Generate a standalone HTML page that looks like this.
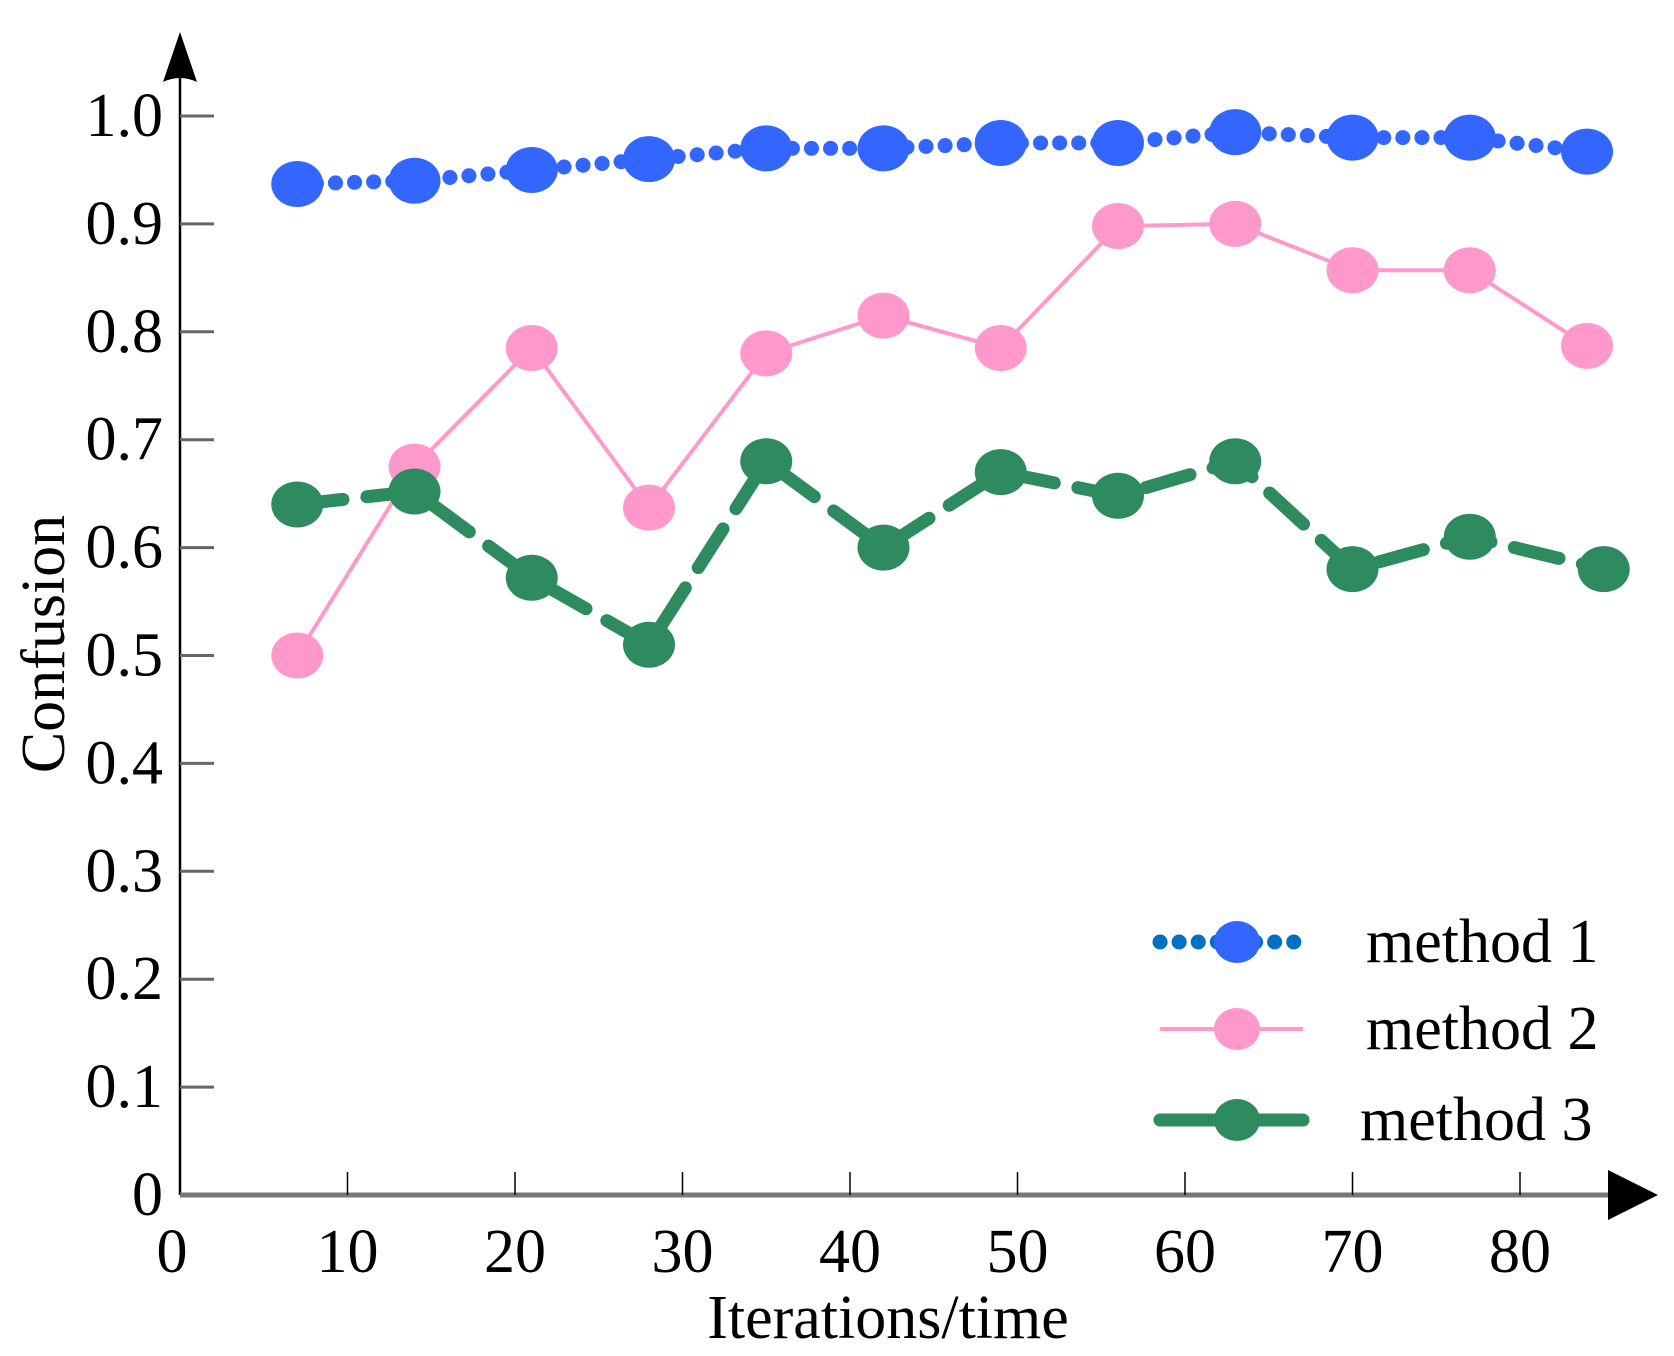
<!DOCTYPE html>
<html><head><meta charset="utf-8"><style>
html,body{margin:0;padding:0;background:#fff;}
svg{display:block;}
text{font-family:"Liberation Serif",serif;fill:#000;}
</style></head><body>
<svg id="chart" width="1674" height="1356" viewBox="0 0 1674 1356" xmlns="http://www.w3.org/2000/svg">
<g id="axes"></g>
<g id="series"></g>
<g id="legend"></g>
</svg>
<script>
const xTicks = [0,10,20,30,40,50,60,70,80];
const yTicks = [0,0.1,0.2,0.3,0.4,0.5,0.6,0.7,0.8,0.9,1.0];
const yTickLabels = ["0","0.1","0.2","0.3","0.4","0.5","0.6","0.7","0.8","0.9","1.0"];
const xA = [7,14,21,28,35,42,49,56,63,70,77,84];
const xC = [7,14,21,28,35,42,49,56,63,70,77,85];
const method1 = [0.937,0.94,0.95,0.96,0.97,0.97,0.975,0.975,0.985,0.98,0.98,0.967];
const method2 = [0.50,0.675,0.785,0.637,0.78,0.815,0.785,0.898,0.90,0.857,0.857,0.787];
const method3 = [0.64,0.652,0.572,0.51,0.68,0.60,0.67,0.648,0.68,0.58,0.61,0.58];
const seriesNames = ["method 1","method 2","method 3"];

const NS="http://www.w3.org/2000/svg";
const X0=180, XPU=16.75, Y0=1195, YPU=1079;
const sx=v=>X0+v*XPU, sy=v=>Y0-v*YPU;
function mk(tag,attrs,parent){const e=document.createElementNS(NS,tag);for(const k in attrs)e.setAttribute(k,attrs[k]);parent.appendChild(e);return e;}
const axes=document.getElementById('axes'), ser=document.getElementById('series'), leg=document.getElementById('legend');

let e=mk('line',{x1:X0,y1:Y0,x2:X0,y2:50,stroke:'#000','stroke-width':2.5},axes);


e=mk('path',{d:`M${X0} 32 L${X0-17} 82 Q${X0} 74 ${X0+17} 82 Z`,fill:'#000'},axes);


e=mk('line',{x1:X0,y1:Y0,x2:1620,y2:Y0,stroke:'#777','stroke-width':5},axes);


e=mk('path',{d:`M1658 ${Y0} L1608 ${Y0-25} L1608 ${Y0+25} Z`,fill:'#000'},axes);



yTicks.forEach((v,i)=>{
  if(v>0){e=mk('line',{x1:X0,y1:sy(v),x2:X0+34,y2:sy(v),stroke:'#666','stroke-width':3},axes);
  
  }
  e=mk('text',{x:0,y:0,'font-size':62,'text-anchor':'end',transform:`translate(163 ${sy(v)+20}) scale(1 1)`},axes);
  e.textContent=yTickLabels[i];
  
  
});
xTicks.forEach(v=>{
  if(v>0){e=mk('line',{x1:sx(v),y1:Y0,x2:sx(v),y2:Y0-23,stroke:'#000','stroke-width':1.5},axes);
  
  }
  e=mk('text',{x:0,y:0,'font-size':62,'text-anchor':'middle',transform:`translate(${sx(v)-(v===0?8:0)} 1272)`},axes);
  e.textContent=String(v);
  
  
});
e=mk('text',{x:0,y:0,'font-size':62,'text-anchor':'middle',transform:'translate(888 1338)'},axes);
e.textContent='Iterations/time';


e=mk('text',{x:0,y:0,'font-size':62,'text-anchor':'middle',transform:'translate(64 644) rotate(-90)'},axes);
e.textContent='Confusion';



const styles=[
 {c:'#3366ff',lc:'#3366ff',w:15,dash:'0.1 19',cap:'round',xs:xA,ys:method1},
 {c:'#ff99cc',lc:'#ff99cc',w:4,dash:'',cap:'butt',xs:xA,ys:method2},
 {c:'#2e8b5f',lc:'#2e8b5f',w:13,dash:'46 24',cap:'round',xs:xC,ys:method3}
];
styles.forEach((s,k)=>{
  const g=mk('g',{},ser);
  
  
  const pts=s.xs.map((x,i)=>sx(x)+','+sy(s.ys[i])).join(' ');
  const a={points:pts,fill:'none',stroke:s.lc,'stroke-width':s.w,'stroke-linecap':s.cap,'stroke-linejoin':'round'};
  if(s.dash)a['stroke-dasharray']=s.dash;
  e=mk('polyline',a,g);
  
  
  s.xs.forEach((x,i)=>{
    e=mk('ellipse',{cx:sx(x),cy:sy(s.ys[i]),rx:26,ry:23,fill:s.c},g);
    
    
  });
});

const legY=[942,1029,1120];
const legLine=['#0070c0','#ff99cc','#2e8b5f'];
styles.forEach((s,k)=>{
  const g=mk('g',{},leg);
  
  
  const a={x1:1160,y1:legY[k],x2:1303,y2:legY[k],stroke:legLine[k],'stroke-width':s.w,'stroke-linecap':s.cap};
  if(k===0)a['stroke-dasharray']='0.1 19';
  e=mk('line',a,g);
  
  
  e=mk('ellipse',{cx:1237,cy:legY[k],rx:23,ry:21,fill:s.c},g);
  
  
  e=mk('text',{x:0,y:0,'font-size':62,transform:`translate(${k===2?1360:1366} ${legY[k]+20})`},g);
  e.textContent=seriesNames[k];
  
  
});
</script>
</body></html>
